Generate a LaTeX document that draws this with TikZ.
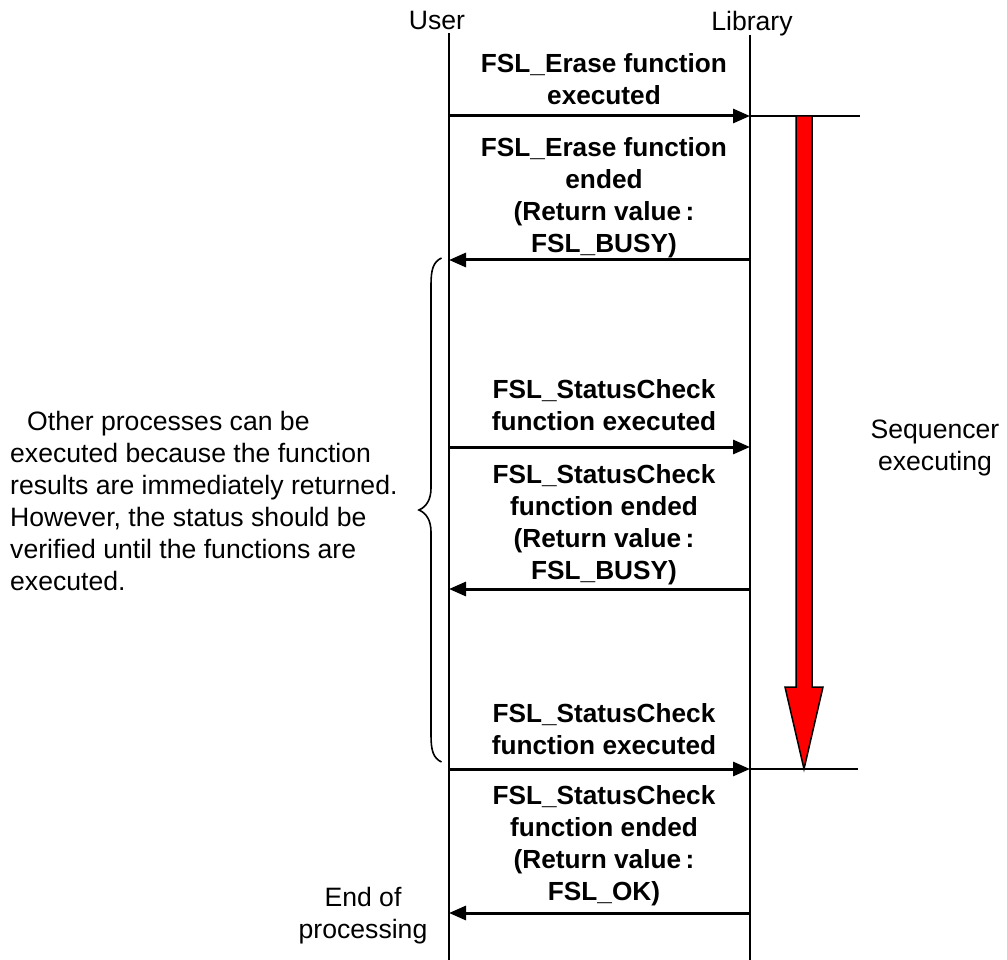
\documentclass[tikz,border=0pt]{standalone}
\usepackage{fontspec}
\setmainfont{Liberation Sans}
\usetikzlibrary{arrows.meta}
\begin{document}
\begin{tikzpicture}[x=1pt,y=-1pt,
  lifeline/.style={line width=2pt},
  msg/.style={line width=3pt,-{Triangle[length=17pt,width=14pt]}},
  marker/.style={line width=2pt},
  msgtext/.style={font=\fontsize{26.2}{32}\selectfont\bfseries,align=center,inner sep=0pt},
  plaintext/.style={font=\fontsize{26.6}{32}\selectfont,align=center,inner sep=0pt},
  seqarrow/.style={line width=1.5pt,draw=black,fill=red,line join=miter},
  bracestyle/.style={line width=1.6pt}]
\useasboundingbox (0,0) rectangle (1007,960);

% lifelines
\node[plaintext,anchor=base] (user) at (437,30) {User};
\node[plaintext,anchor=base] (lib) at (752,31) {Library};
\coordinate (utop) at (449,33);
\coordinate (ubot) at (449,960);
\coordinate (ltop) at (750,35);
\coordinate (lbot) at (750,960);
\draw[lifeline] (utop) -- (ubot);
\draw[lifeline] (ltop) -- (lbot);

% message end points
\foreach \k/\y in {1/116,2/260,3/447,4/589,5/769,6/913}{
  \coordinate (u\k) at (449,\y);
  \coordinate (l\k) at (750,\y);
}
\coordinate (m1) at (860,116);
\coordinate (m5) at (858,769);

% messages
\draw[msg] (u1) -- (l1);
\draw[msg] (l2) -- (u2);
\draw[msg] (u3) -- (l3);
\draw[msg] (l4) -- (u4);
\draw[msg] (u5) -- (l5);
\draw[msg] (l6) -- (u6);

% sequencer start / end markers
\draw[marker] (l1) -- (m1);
\draw[marker] (l5) -- (m5);

% sequencer running arrow
\draw[seqarrow] (796,116) -- (812,116) -- (812,687) -- (823,687) -- (804,769)
  -- (785,687) -- (796,687) -- cycle;

% message labels
\node[msgtext] (t1) at (604,79.5) {FSL\_Erase function\\executed};
\node[msgtext] (t2) at (604,198) {FSL\_Erase function\\ended\\(Return value\,:\\FSL\_BUSY)};
\node[msgtext] (t3) at (604,405.5) {FSL\_StatusCheck\\function executed};
\node[msgtext] (t4) at (604,525) {FSL\_StatusCheck\\function ended\\(Return value\,:\\FSL\_BUSY)};
\node[msgtext] (t5) at (604,729.5) {FSL\_StatusCheck\\function executed};
\node[msgtext] (t6) at (604,846) {FSL\_StatusCheck\\function ended\\(Return value\,:\\FSL\_OK)};

% side notes
\node[plaintext,align=left,anchor=west] (note) at (10,501)
  {\hspace*{17pt}Other processes can be\\executed because the function\\results are immediately returned.\\However, the status should be\\verified until the functions are\\executed.};
\node[plaintext] (seq) at (935,448) {Sequencer\\executing};
\node[plaintext] (endp) at (363,916) {End of\\processing};

% brace spanning the polling period
\draw[bracestyle] (441.5,258) .. controls (433,262) and (431,270) .. (431,285)
  -- (431,488) .. controls (431,500) and (426,507) .. (419,510)
  .. controls (426,513) and (431,520) .. (431,532)
  -- (431,735) .. controls (431,750) and (433,758) .. (441.5,762);
\end{tikzpicture}
\end{document}
